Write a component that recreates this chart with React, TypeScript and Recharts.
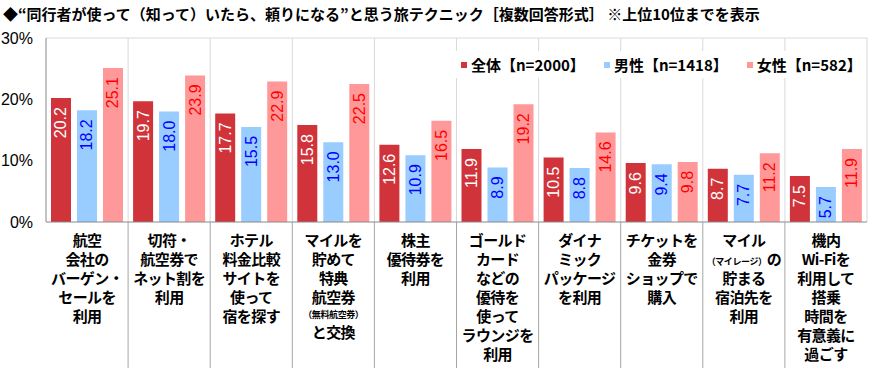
import React from 'react';
import { BarChart, Bar, XAxis, YAxis, CartesianGrid, LabelList } from 'recharts';

const categories = [
  '航空会社のバーゲン・セールを利用',
  '切符・航空券でネット割を利用',
  'ホテル料金比較サイトを使って宿を探す',
  'マイルを貯めて特典航空券（無料航空券）と交換',
  '株主優待券を利用',
  'ゴールドカードなどの優待を使ってラウンジを利用',
  'ダイナミックパッケージを利用',
  'チケットを金券ショップで購入',
  'マイル（マイレージ）の貯まる宿泊先を利用',
  '機内Wi-Fiを利用して搭乗時間を有意義に過ごす',
];

// label lines: each line is a list of [text, small?]
const labelLines: [string, boolean][][][] = [
  [[['航空', false]], [['会社の', false]], [['バーゲン・', false]], [['セールを', false]], [['利用', false]]],
  [[['切符・', false]], [['航空券で', false]], [['ネット割を', false]], [['利用', false]]],
  [[['ホテル', false]], [['料金比較', false]], [['サイトを', false]], [['使って', false]], [['宿を探す', false]]],
  [[['マイルを', false]], [['貯めて', false]], [['特典', false]], [['航空券', false]], [['（無料航空券）', true]], [['と交換', false]]],
  [[['株主', false]], [['優待券を', false]], [['利用', false]]],
  [[['ゴールド', false]], [['カード', false]], [['などの', false]], [['優待を', false]], [['使って', false]], [['ラウンジを', false]], [['利用', false]]],
  [[['ダイナ', false]], [['ミック', false]], [['パッケージ', false]], [['を利用', false]]],
  [[['チケットを', false]], [['金券', false]], [['ショップで', false]], [['購入', false]]],
  [[['マイル', false]], [['（マイレージ）', true], ['の', false]], [['貯まる', false]], [['宿泊先を', false]], [['利用', false]]],
  [[['機内', false]], [['Wi-Fiを', false]], [['利用して', false]], [['搭乗', false]], [['時間を', false]], [['有意義に', false]], [['過ごす', false]]],
];

const totalValues = [20.2, 19.7, 17.7, 15.8, 12.6, 11.9, 10.5, 9.6, 8.7, 7.5];
const maleValues = [18.2, 18.0, 15.5, 13.0, 10.9, 8.9, 8.8, 9.4, 7.7, 5.7];
const femaleValues = [25.1, 23.9, 22.9, 22.5, 16.5, 19.2, 14.6, 9.8, 11.2, 11.9];

const seriesNames = ['全体【n=2000】', '男性【n=1418】', '女性【n=582】'];
const yTicks = [0, 10, 20, 30];

const title = '◆“同行者が使って（知って）いたら、頼りになる”と思う旅テクニック［複数回答形式］ ※上位10位までを表示';

const COLORS = ['#D0343A', '#99CCFF', '#FF9999'];
const LABEL_COLORS = ['#FFFFFF', '#0000FF', '#FF0000'];

const data = categories.map((c, i) => ({
  name: c,
  idx: i,
  total: totalValues[i],
  male: maleValues[i],
  female: femaleValues[i],
}));

const JP = '"Noto Sans CJK JP", "Noto Sans", sans-serif';
const NUM = '"Liberation Sans", Arial, sans-serif';

const makeLabel = (color: string) => (props: any) => {
  const { x, y, width, value } = props;
  const cx = Number(x) + Number(width) / 2;
  const ty = Number(y) + 9;
  return (
    <text
      x={cx}
      y={ty}
      transform={`rotate(-90 ${cx} ${ty})`}
      textAnchor="end"
      dominantBaseline="central"
      fill={color}
      fontFamily={NUM}
      fontSize={16}
    >
      {Number(value).toFixed(1)}
    </text>
  );
};

const isSmall = (s: [string, boolean][]) => s.length === 1 && s[0][1];

const CategoryTick = (props: any) => {
  const { x, y, payload, index, width } = props;
  const band = (Number(width) || 821) / categories.length;
  const i = payload?.index ?? index;
  const lines = labelLines[i] || [];
  let cy = 222 + 24;
  const rendered: React.ReactNode[] = [];
  lines.forEach((segs, li) => {
    if (li > 0) cy += isSmall(segs) ? 15 : isSmall(lines[li - 1]) ? 20 : 19;
    rendered.push(
      <text
        key={li}
        x={x}
        y={cy}
        textAnchor="middle"
        fontFamily={JP}
        fontWeight="bold"
        fontSize={15}
        letterSpacing={-0.6}
        fill="#000"
      >
        {segs.map(([t, small], si) => (
          <tspan key={si} fontSize={small ? 9 : 15} letterSpacing={small ? -0.4 : -0.6}>{t}</tspan>
        ))}
      </text>
    );
  });
  return (
    <g>
      {i > 0 && (
        <line x1={x - band / 2} x2={x - band / 2} y1={y - 8} y2={368} stroke="#A6A6A6" strokeWidth={1} />
      )}
      {rendered}
    </g>
  );
};

export default function App() {
  return (
    <div style={{ position: 'absolute', left: 0, top: 0, width: 880, height: 370, background: '#fff' }}>
      <BarChart
        width={880}
        height={370}
        data={data}
        margin={{ top: 38, right: 13, bottom: 8, left: 6 }}
        barSize={20}
        barGap={6}
      >
        <CartesianGrid
          stroke="#D9D9D9"
          vertical={true}
          horizontal={true}
          verticalCoordinatesGenerator={({ offset }: any) =>
            Array.from({ length: categories.length }, (_, k) => offset.left + ((k + 1) * offset.width) / categories.length)
          }
          horizontalCoordinatesGenerator={({ offset }: any) => [offset.top]}
        />
        <XAxis
          dataKey="name"
          height={140}
          tickLine={false}
          axisLine={{ stroke: '#888888' }}
          interval={0}
          tick={<CategoryTick />}
        />
        <YAxis
          width={40}
          domain={[0, 30]}
          ticks={yTicks}
          tickFormatter={(v: number) => `${v}%`}
          tickLine={false}
          tickSize={5}
          tickMargin={8}
          axisLine={{ stroke: '#888888' }}
          tick={{ fill: '#000', fontSize: 16, fontFamily: NUM }}
          allowDataOverflow
        />
        <Bar dataKey="total" name={seriesNames[0]} fill={COLORS[0]} isAnimationActive={false}>
          <LabelList dataKey="total" content={makeLabel(LABEL_COLORS[0])} />
        </Bar>
        <Bar dataKey="male" name={seriesNames[1]} fill={COLORS[1]} isAnimationActive={false}>
          <LabelList dataKey="male" content={makeLabel(LABEL_COLORS[1])} />
        </Bar>
        <Bar dataKey="female" name={seriesNames[2]} fill={COLORS[2]} isAnimationActive={false}>
          <LabelList dataKey="female" content={makeLabel(LABEL_COLORS[2])} />
        </Bar>
      </BarChart>
      <div
        style={{
          position: 'absolute',
          left: 3,
          top: 4,
          fontFamily: JP,
          fontWeight: 'bold',
          fontSize: 15,
          color: '#000',
          whiteSpace: 'nowrap',
          lineHeight: '20px',
        }}
      >
        {title}
      </div>
      <div
        style={{
          position: 'absolute',
          left: 455,
          top: 51,
          height: 27,
          width: 400,
          background: '#fff',
          display: 'flex',
          alignItems: 'center',
          fontFamily: JP,
          fontWeight: 'bold',
          fontSize: 15,
          color: '#000',
          whiteSpace: 'nowrap',
        }}
      >
        {seriesNames.map((n, i) => (
          <div key={n} style={{ display: 'flex', alignItems: 'center', marginLeft: i === 0 ? 6 : 19 }}>
            <span style={{ display: 'inline-block', width: 6, height: 6, background: COLORS[i], marginRight: 4 }} />
            <span>{n}</span>
          </div>
        ))}
      </div>
    </div>
  );
}
